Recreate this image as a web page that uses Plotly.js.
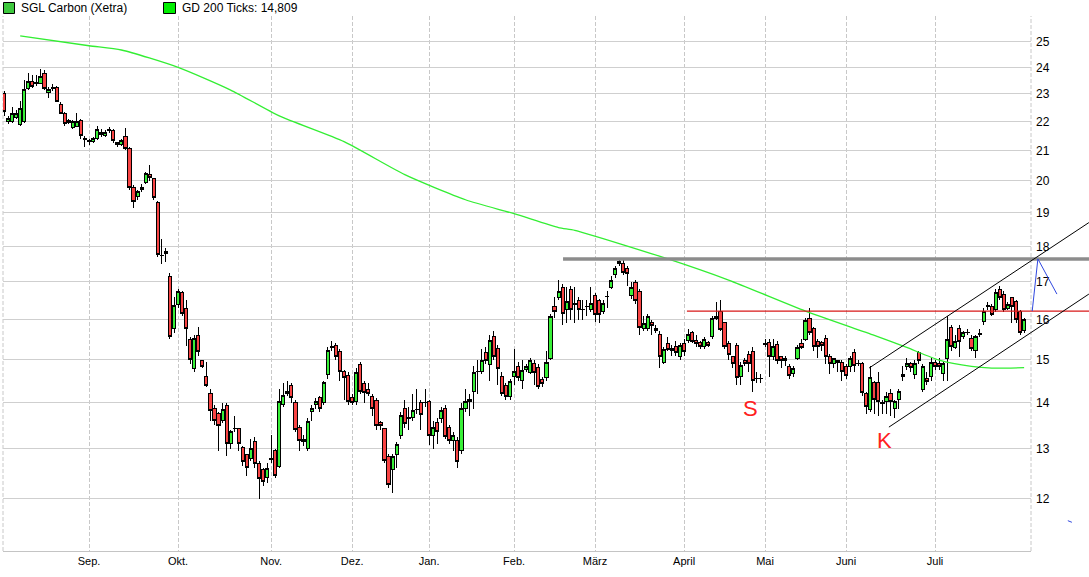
<!DOCTYPE html>
<html><head><meta charset="utf-8">
<script src="https://cdn.plot.ly/plotly-3.0.1.min.js"></script>
<style>html,body{margin:0;padding:0;background:#fff;}#chart{width:1089px;height:577px;}
#chart .boxlayer path{shape-rendering:crispEdges;}</style>
</head><body><div id="chart"></div>
<script>
// ---- calendar (Xetra trading days) ----
const firstDay = '2014-08-01';
const lastDay = '2015-07-31';
const holidays = ['2014-12-24','2014-12-25','2014-12-26','2014-12-31','2015-01-01','2015-04-03','2015-04-06','2015-05-01'];
const monthLabels = ['Sep.','Okt.','Nov.','Dez.','Jan.','Feb.','März','April','Mai','Juni','Juli'];
const priceTicks = [12,13,14,15,16,17,18,19,20,21,22,23,24,25];

// ---- OHLC (EUR), month by month ----
const openP = [
 23.03,22.00,22.00,22.16,21.90,22.00,23.20,23.48,23.37,23.40,23.75,23.06,23.20,23.25,22.62,22.27,22.05,21.80,21.84,22.05,21.40,
 21.33,21.30,21.40,21.60,21.50,21.67,21.67,21.26,21.20,21.46,21.05,19.80,19.49,19.71,19.93,20.20,20.06,19.30,17.75,17.86,17.16,15.78,
 16.40,16.70,16.30,15.50,14.78,15.60,14.97,14.59,14.20,13.86,13.75,13.60,13.93,13.10,13.42,13.42,13.03,12.88,12.80,13.16,12.69,12.58,12.42,
 12.77,12.97,12.64,13.95,14.20,14.38,14.00,13.45,13.16,13.00,13.80,13.95,14.11,14.00,14.64,15.32,15.34,15.20,14.71,14.62,
 14.11,14.02,14.88,14.43,14.29,14.15,14.04,13.55,13.42,12.83,12.58,12.87,13.29,13.88,13.68,13.68,13.84,14.00,14.00,
 14.02,13.29,13.55,13.64,13.88,13.45,13.18,13.18,12.97,13.88,14.02,14.25,14.71,14.71,15.17,14.88,15.58,15.27,14.59,14.38,14.15,
 14.59,14.83,14.50,14.76,14.69,14.92,14.81,14.52,14.57,15.04,16.33,16.59,16.86,16.27,16.80,16.38,16.49,16.25,16.33,16.27,
 16.64,16.49,16.20,16.60,16.86,17.19,17.58,17.52,17.36,16.64,16.97,16.75,15.76,15.76,15.92,15.76,15.63,14.94,15.40,15.22,15.32,15.09,
 15.40,15.48,15.68,15.48,15.43,15.32,15.43,15.58,16.09,16.20,15.92,15.40,15.09,15.35,14.59,14.99,15.12,15.20,14.55,14.56,
 15.40,15.43,15.09,15.37,15.07,15.04,14.83,14.66,15.04,15.40,15.50,16.04,15.76,15.45,15.43,15.53,15.09,14.92,14.99,14.94,
 14.83,14.83,15.17,14.90,14.90,14.20,13.84,14.45,14.45,14.00,14.02,14.20,13.86,14.06,14.59,14.83,14.92,14.64,15.17,14.31,14.55,14.59,
 14.94,14.92,14.66,15.04,15.81,15.30,15.76,15.58,15.66,15.53,15.22,15.63,15.94,16.35,16.33,16.25,16.78,16.67,16.30,16.57,16.46,16.20,15.71
];
const highP = [
 23.10,22.20,22.52,22.40,22.73,23.50,23.80,23.70,23.70,23.95,23.90,23.25,23.35,23.30,22.70,22.35,22.10,22.05,22.30,22.10,21.50,
 21.40,21.45,21.85,21.75,21.70,21.80,21.75,21.30,21.40,21.77,21.10,19.85,19.70,19.90,20.30,20.50,20.10,19.35,18.21,17.95,17.25,16.60,
 16.80,16.75,16.50,15.55,15.60,15.80,15.00,14.95,14.30,13.95,13.80,14.00,14.00,13.40,13.70,13.45,13.05,12.90,13.20,13.25,12.75,12.60,12.70,
 13.30,13.00,14.30,14.45,14.50,14.45,14.05,13.50,13.30,13.65,13.95,14.10,14.15,14.50,15.30,15.45,15.40,15.25,14.75,14.70,
 14.20,14.80,14.95,14.50,14.45,14.20,14.10,13.60,13.45,12.90,12.90,13.15,13.80,14.05,13.90,14.20,14.30,14.05,14.30,
 14.05,13.60,13.65,13.90,13.95,13.50,13.35,13.25,14.00,14.30,14.20,14.85,15.00,15.25,15.30,15.60,15.70,15.35,14.70,14.45,14.55,
 15.25,14.95,15.00,14.90,15.05,15.00,14.90,14.60,15.20,16.15,16.60,17.05,16.95,16.85,16.90,16.85,16.60,16.50,16.50,16.85,
 16.70,16.55,16.50,16.75,17.15,17.45,17.65,17.60,17.45,17.00,17.05,16.80,16.10,16.15,16.00,15.85,15.70,15.30,15.55,15.35,15.45,15.40,
 15.50,15.75,15.70,15.60,15.45,15.55,15.45,16.10,16.45,16.50,15.95,15.45,15.10,15.40,14.95,15.05,15.20,15.30,14.70,14.65,
 15.50,15.50,15.50,15.45,15.10,15.10,14.90,14.85,15.35,15.50,16.05,16.30,15.80,15.50,15.45,15.60,15.15,15.05,15.00,15.00,
 14.90,15.10,15.25,15.00,14.95,14.25,14.85,14.50,14.70,14.05,14.25,14.30,14.05,14.30,14.85,15.05,14.95,15.00,15.20,14.90,14.70,15.05,
 15.00,15.05,14.95,16.09,15.85,15.60,15.85,15.70,15.75,15.60,15.60,15.75,16.30,16.45,16.40,16.80,16.90,16.75,16.45,16.60,16.50,16.25,16.05
];
const lowP = [
 22.20,21.90,21.95,22.10,21.85,21.95,23.15,23.20,23.30,23.35,23.15,22.85,23.10,22.70,22.25,21.85,21.90,21.75,21.80,21.40,21.12,
 21.20,21.25,21.35,21.45,21.45,21.60,21.25,21.10,21.15,21.00,19.70,19.15,19.40,19.65,19.90,20.00,19.40,17.70,17.50,17.55,15.50,15.65,
 16.30,16.10,15.33,14.90,14.70,15.10,14.80,14.35,13.60,13.50,12.95,13.55,12.85,13.00,13.35,12.95,12.65,12.45,12.75,12.60,12.00,12.25,12.30,
 12.70,12.40,12.60,13.90,14.15,14.00,13.35,12.95,13.05,12.95,13.60,13.85,13.80,13.95,14.55,15.20,15.00,14.50,14.05,13.95,
 13.95,13.95,14.20,14.00,14.15,13.70,13.40,13.40,12.70,12.20,12.10,12.60,13.20,13.45,13.40,13.60,13.75,13.40,13.90,
 13.08,13.00,13.10,13.55,13.20,13.10,12.95,12.60,12.90,13.80,13.70,13.85,14.20,14.65,14.90,14.50,15.00,14.40,14.15,14.05,14.05,
 14.40,14.50,14.30,14.70,14.65,14.40,14.30,14.35,14.50,15.00,16.05,16.50,15.85,15.90,16.00,15.90,16.00,16.00,16.10,16.20,
 15.95,15.90,16.15,16.30,16.80,17.10,17.45,17.20,16.90,16.55,16.40,15.60,15.70,15.70,15.60,15.65,14.80,14.90,15.20,15.10,15.10,15.00,
 15.10,15.40,15.40,15.30,15.25,15.25,15.30,15.50,16.00,15.70,15.25,15.00,14.80,14.40,14.40,14.85,14.70,14.25,14.45,14.45,
 15.30,14.60,15.00,14.90,14.80,14.85,14.55,14.60,15.00,15.25,15.45,15.60,15.20,15.05,15.20,14.90,14.65,14.80,14.70,14.50,
 14.55,14.70,14.70,14.85,14.15,13.75,13.80,13.75,13.70,13.75,13.75,13.70,13.65,13.85,14.50,14.75,14.70,14.55,14.90,14.25,14.40,14.50,
 14.75,14.75,14.50,14.50,15.20,15.25,15.07,15.50,15.60,15.20,15.05,15.55,15.85,16.25,16.10,16.20,16.50,16.20,16.25,15.90,15.90,15.60,15.65
];
const closeP = [
 22.34,22.10,22.30,22.30,22.45,23.18,23.48,23.29,23.44,23.67,23.21,23.18,23.25,22.73,22.30,21.93,21.95,22.00,22.00,21.50,21.38,
 21.30,21.40,21.73,21.53,21.60,21.73,21.33,21.20,21.33,21.05,19.77,19.36,19.65,19.80,20.25,20.10,19.46,17.77,17.74,17.80,15.58,16.37,
 16.75,16.17,15.76,15.00,15.53,15.20,14.83,14.40,13.82,13.60,13.50,13.84,13.12,13.36,13.43,13.12,12.73,12.62,13.00,12.69,12.40,12.34,12.60,
 12.80,12.46,14.02,14.17,14.26,14.11,13.40,13.18,13.20,13.58,13.86,14.02,13.86,14.45,15.22,15.30,15.09,14.71,14.57,14.02,
 14.00,14.69,14.25,14.22,14.20,13.88,13.49,13.49,12.75,12.27,12.83,13.08,13.71,13.53,13.64,13.82,13.85,13.73,14.00,
 13.29,13.45,13.36,13.82,13.25,13.18,13.29,12.73,13.88,14.02,14.08,14.69,14.73,14.97,14.97,15.46,15.07,14.78,14.20,14.13,14.48,
 14.71,14.57,14.74,14.83,14.97,14.69,14.36,14.43,14.94,16.07,16.20,16.75,16.17,16.46,16.27,16.43,16.25,16.26,16.34,16.43,
 16.12,16.12,16.43,16.61,17.05,17.36,17.52,17.25,17.22,16.84,16.49,15.79,15.89,16.07,15.86,15.71,15.09,15.24,15.24,15.27,15.17,15.34,
 15.20,15.63,15.45,15.40,15.32,15.50,15.35,16.04,16.04,15.74,15.32,15.12,14.92,14.57,14.85,14.92,14.92,14.50,14.56,14.55,
 15.38,15.09,15.32,14.97,14.97,14.97,14.62,14.78,15.29,15.30,15.97,15.68,15.32,15.32,15.35,15.07,14.92,15.02,14.94,14.71,
 14.62,15.04,14.85,14.92,14.22,13.91,14.57,14.06,14.02,13.98,14.13,14.02,14.02,14.25,14.64,14.92,14.81,14.92,14.97,14.83,14.48,14.94,
 14.83,14.83,14.90,15.50,15.32,15.45,15.45,15.66,15.68,15.27,15.58,15.64,16.22,16.36,16.14,16.72,16.57,16.25,16.38,16.33,15.99,15.66,15.99
];

// ---- 200-day average (read at selected trading-day indices) ----
const maIdx = [4,21,29,43,56,68,84,99,114,126,137,141,164,179,198,215,223,231,239,244,252];
const maVal = [25.25,24.85,24.68,24.00,23.14,22.20,21.30,20.20,19.40,18.97,18.55,18.47,17.64,17.05,16.22,15.60,15.30,14.99,14.84,14.80,14.81];

// ---- hand-drawn analysis lines (trading-day index, price) ----
const resistGray = {i0:138.1, p:17.64};
const resistRed  = {i0:168.7, p:16.22};
const chanUpper  = {i:[213.7,268.0], p:[14.80,18.70]};
const chanLower  = {i:[218.6,268.0], p:[13.46,16.67]};
const blueZig    = {i:[254.0,255.4,260.1], p:[16.22,17.64,16.67]};
const blueTick   = {i:[262.8,263.8], p:[11.58,11.55]};
const labelS = {i:184.3, p:13.88, t:'S'};
const labelK = {i:217.4, p:13.18, t:'K'};

// ---- build ----
function tradingDays(a, b, hol){
  const out=[]; const d=new Date(a+'T00:00:00Z'); const e=new Date(b+'T00:00:00Z');
  while(d<=e){const wd=d.getUTCDay(); const s=d.toISOString().slice(0,10);
    if(wd!==0&&wd!==6&&hol.indexOf(s)<0) out.push(s); d.setUTCDate(d.getUTCDate()+1);}
  return out;
}
const dates = tradingDays(firstDay, lastDay, holidays);
const xs = dates.map((_,k)=>k);
const monthTicks = [];
for(let k=1;k<dates.length;k++){ if(dates[k].slice(5,7)!==dates[k-1].slice(5,7)) monthTicks.push(k); }

const W=1089,H=577,mL=3,mR=58,mT=16,mB=26;
const pw=W-mL-mR, ph=H-mT-mB;
const xr=[-0.247,253.7];
const yr=[1.04254,1.41609];
const pX = i => (i-xr[0])/(xr[1]-xr[0]);
const pY = p => (Math.log10(p)-yr[0])/(yr[1]-yr[0]);
const pxX = px => (px-mL)/pw;
const pxY = py => (H-mB-py)/ph;
const edge = pxX(W);

const shapes = [
  {type:'line',xref:'paper',yref:'paper',x0:0,x1:0,y0:0,y1:1,line:{color:'#c8c8c8',width:1,dash:'4px,2px'},layer:'below'},
  {type:'line',xref:'paper',yref:'paper',x0:1,x1:1,y0:0,y1:1,line:{color:'#c8c8c8',width:1,dash:'4px,2px'},layer:'below'},
  {type:'line',xref:'paper',yref:'paper',x0:pX(resistGray.i0),x1:edge,y0:pY(resistGray.p),y1:pY(resistGray.p),line:{color:'#8c8c8c',width:3.5}},
  {type:'line',xref:'paper',yref:'paper',x0:pX(resistRed.i0),x1:edge,y0:pY(resistRed.p),y1:pY(resistRed.p),line:{color:'#d81818',width:1.2}},
  {type:'line',xref:'paper',yref:'paper',x0:pX(chanUpper.i[0]),x1:pX(chanUpper.i[1]),y0:pY(chanUpper.p[0]),y1:pY(chanUpper.p[1]),line:{color:'#000',width:1}},
  {type:'line',xref:'paper',yref:'paper',x0:pX(chanLower.i[0]),x1:pX(chanLower.i[1]),y0:pY(chanLower.p[0]),y1:pY(chanLower.p[1]),line:{color:'#000',width:1}},
  {type:'line',xref:'paper',yref:'paper',x0:pX(blueZig.i[0]),x1:pX(blueZig.i[1]),y0:pY(blueZig.p[0]),y1:pY(blueZig.p[1]),line:{color:'#3048e0',width:1}},
  {type:'line',xref:'paper',yref:'paper',x0:pX(blueZig.i[1]),x1:pX(blueZig.i[2]),y0:pY(blueZig.p[1]),y1:pY(blueZig.p[2]),line:{color:'#3048e0',width:1}},
  {type:'line',xref:'paper',yref:'paper',x0:pX(blueTick.i[0]),x1:pX(blueTick.i[1]),y0:pY(blueTick.p[0]),y1:pY(blueTick.p[1]),line:{color:'#3048e0',width:1}},
  // legend squares
  {type:'rect',xref:'paper',yref:'paper',x0:pxX(3.5),x1:pxX(14.5),y0:pxY(13.5),y1:pxY(2.5),fillcolor:'#3ec83e',line:{color:'#000',width:1}},
  {type:'rect',xref:'paper',yref:'paper',x0:pxX(163.5),x1:pxX(175.5),y0:pxY(13.5),y1:pxY(2.5),fillcolor:'#00ee00',line:{color:'#000',width:1}}
];

const legendFont = {family:'Liberation Sans, Arial, sans-serif', size:12, color:'#000'};
const annotations = [
  {xref:'paper',yref:'paper',x:pxX(19),y:pxY(8),xanchor:'left',yanchor:'middle',text:'SGL Carbon (Xetra)',showarrow:false,font:legendFont},
  {xref:'paper',yref:'paper',x:pxX(180),y:pxY(8),xanchor:'left',yanchor:'middle',text:'GD 200 Ticks: 14,809',showarrow:false,font:legendFont},
  {xref:'x',yref:'y',x:labelS.i,y:Math.log10(labelS.p),text:labelS.t,showarrow:false,xanchor:'center',yanchor:'middle',font:{family:'Liberation Sans, Arial, sans-serif',size:22,color:'#ff2020'}},
  {xref:'x',yref:'y',x:labelK.i,y:Math.log10(labelK.p),text:labelK.t,showarrow:false,xanchor:'center',yanchor:'middle',font:{family:'Liberation Sans, Arial, sans-serif',size:22,color:'#ff2020'}}
];

const traces = [
  {type:'candlestick', x:xs, open:openP, high:highP, low:lowP, close:closeP,
   increasing:{line:{color:'#000',width:1}, fillcolor:'#38f038'},
   decreasing:{line:{color:'#000',width:1}, fillcolor:'#f84444'},
   whiskerwidth:0, hoverinfo:'skip', name:'SGL Carbon (Xetra)'},
  {type:'scatter', mode:'lines', x:maIdx, y:maVal, line:{color:'#33ee33',width:1.3,shape:'spline',smoothing:0.6}, hoverinfo:'skip', name:'GD 200'}
];

const layout = {
  width:W, height:H, margin:{l:mL,r:mR,t:mT,b:mB,autoexpand:false},
  paper_bgcolor:'#fff', plot_bgcolor:'#fff', showlegend:false, boxgap:0.22, boxgroupgap:0,
  xaxis:{type:'linear', range:xr, tickmode:'array', tickvals:monthTicks, ticktext:monthLabels,
    showgrid:true, gridcolor:'#c8c8c8', gridwidth:1, griddash:'4px,2px', zeroline:false,
    showline:true, linecolor:'#c4c4c4', linewidth:1, ticks:'', ticklabelstandoff:0,
    tickfont:{family:'Liberation Sans, Arial, sans-serif', size:11, color:'#000'},
    rangeslider:{visible:false}, fixedrange:true},
  yaxis:{type:'log', side:'right', range:yr, tickmode:'array', tickvals:priceTicks, ticktext:priceTicks.map(String),
    showgrid:true, gridcolor:'#cfcfcf', gridwidth:1, zeroline:false, showline:false, ticks:'', ticklabelstandoff:4,
    tickfont:{family:'Liberation Sans, Arial, sans-serif', size:12, color:'#000'}, fixedrange:true},
  shapes:shapes, annotations:annotations
};
Plotly.newPlot('chart', traces, layout, {staticPlot:true, displayModeBar:false});
</script>
</body></html>
